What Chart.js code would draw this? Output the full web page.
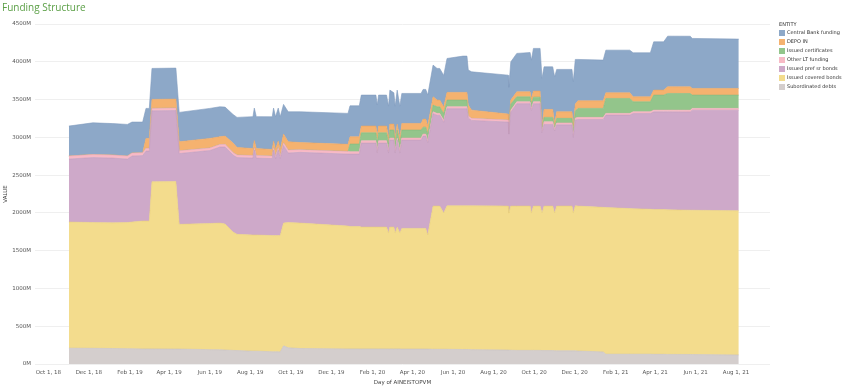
<!DOCTYPE html>
<html>
<head>
<meta charset="utf-8">
<script src="https://cdn.jsdelivr.net/npm/chart.js@4.4.1/dist/chart.umd.min.js"></script>
<style>
  html, body { margin: 0; padding: 0; background: #fff; }
  #wrap { position: relative; width: 850px; height: 389px; overflow: hidden; }
  #title { position: absolute; left: 2px; top: 0; line-height: 14px; font: 10px "Open Sans", sans-serif; color: #5a9f45; }
  #legend { position: absolute; left: 779px; top: 20px; font-family: "DejaVu Sans", sans-serif; font-size: 5px; color: #333; white-space: nowrap; }
  #legend .head { height: 8px; line-height: 8px; }
  #legend .row { height: 9px; line-height: 9px; display: flex; align-items: center; }
  #legend .box { width: 6px; height: 6px; margin-right: 2px; flex: none; }
  canvas { position: absolute; left: 0; top: 0; }
</style>
</head>
<body>
<div id="wrap">
  <canvas id="chart" width="850" height="389"></canvas>
  <div id="title">Funding Structure</div>
  <div id="legend"></div>
</div>
<script>
// dates of the readings (daily data sampled at its steps)
const dates = [
  '2018-11-01', '2018-12-07', '2019-01-06', '2019-01-28', '2019-02-04', '2019-02-20', '2019-02-25', '2019-03-02',
  '2019-03-06', '2019-04-11', '2019-04-16', '2019-06-01', '2019-06-16', '2019-06-24', '2019-07-06', '2019-07-12',
  '2019-08-05', '2019-08-07', '2019-08-10', '2019-09-03', '2019-09-05', '2019-09-08', '2019-09-12', '2019-09-15',
  '2019-09-20', '2019-09-27', '2019-10-15', '2019-12-26', '2019-12-29', '2020-01-12', '2020-01-15', '2020-02-06',
  '2020-02-08', '2020-02-10', '2020-02-22', '2020-02-25', '2020-02-27', '2020-03-04', '2020-03-06', '2020-03-09',
  '2020-03-13', '2020-03-16', '2020-04-14', '2020-04-17', '2020-04-21', '2020-04-24', '2020-05-02', '2020-05-08',
  '2020-05-12', '2020-05-18', '2020-05-23', '2020-06-16', '2020-06-22', '2020-06-24', '2020-06-29', '2020-08-23',
  '2020-08-24', '2020-08-27', '2020-09-05', '2020-09-25', '2020-09-27', '2020-09-30', '2020-10-10', '2020-10-13',
  '2020-10-16', '2020-10-29', '2020-11-01', '2020-11-04', '2020-11-27', '2020-11-29', '2020-12-02', '2020-12-06',
  '2021-01-13', '2021-01-17', '2021-02-22', '2021-02-27', '2021-03-25', '2021-03-30', '2021-04-14', '2021-04-20',
  '2021-05-24', '2021-05-27', '2021-08-05'
];

// values in millions
const subordinated = [
  210, 208, 205, 203, 202, 200, 200, 200,
  200, 198, 198, 190, 188, 186, 180, 178,
  170, 170, 170, 162, 162, 162, 162, 160,
  240, 215, 205, 200, 200, 200, 200, 200,
  200, 200, 200, 200, 200, 200, 200, 200,
  200, 198, 198, 198, 198, 198, 195, 195,
  195, 195, 195, 192, 192, 192, 190, 185,
  185, 182, 180, 180, 180, 180, 180, 178,
  178, 178, 176, 175, 175, 175, 174, 172,
  160, 130, 130, 130, 130, 128, 128, 127,
  126, 125, 120
];
const coveredBonds = [
  1669, 1664, 1664, 1669, 1677, 1692, 1692, 1692,
  2212, 2216, 1650, 1669, 1677, 1666, 1566, 1538,
  1537, 1537, 1537, 1538, 1538, 1538, 1538, 1540,
  1625, 1657, 1660, 1626, 1619, 1619, 1612, 1612,
  1612, 1612, 1612, 1533, 1612, 1612, 1533, 1612,
  1533, 1597, 1597, 1597, 1597, 1509, 1895, 1895,
  1895, 1803, 1899, 1902, 1902, 1902, 1904, 1905,
  1813, 1908, 1910, 1910, 1818, 1910, 1910, 1820,
  1912, 1912, 1822, 1915, 1915, 1823, 1920, 1918,
  1913, 1942, 1927, 1925, 1918, 1917, 1917, 1913,
  1910, 1910, 1908
];
const prefSrBonds = [
  833, 860, 856, 840, 873, 866, 926, 926,
  939, 940, 937, 966, 1006, 1019, 1019, 1016,
  1018, 1124, 1018, 1019, 1131, 1019, 1131, 1019,
  1026, 920, 936, 952, 959, 959, 1112, 1112,
  980, 1112, 1112, 1059, 1152, 1152, 1059, 1152,
  1059, 1169, 1169, 1221, 1221, 1221, 1223, 1202,
  1202, 1202, 1285, 1285, 1285, 1161, 1130, 1112,
  1045, 1245, 1355, 1355, 1355, 1355, 1355, 1060,
  1081, 1081, 1086, 1075, 1075, 1000, 1134, 1147,
  1164, 1222, 1237, 1260, 1267, 1292, 1292, 1297,
  1300, 1325, 1332
];
const otherLT = [
  40, 40, 40, 40, 40, 37, 36, 36,
  32, 33, 37, 33, 33, 36, 33, 33,
  33, 33, 33, 33, 33, 33, 33, 33,
  37, 39, 35, 35, 31, 31, 30, 30,
  30, 30, 30, 30, 26, 26, 30, 26,
  30, 26, 26, 27, 27, 27, 25, 25,
  25, 25, 25, 25, 25, 26, 27, 26,
  26, 25, 25, 25, 25, 25, 25, 25,
  35, 35, 25, 25, 25, 25, 27, 27,
  27, 23, 23, 23, 23, 23, 23, 23,
  23, 23, 23
];
const certificates = [
  0, 0, 0, 0, 0, 0, 0, 0,
  0, 0, 0, 0, 0, 0, 0, 0,
  0, 0, 0, 0, 0, 0, 0, 0,
  0, 0, 0, 0, 102, 102, 106, 106,
  106, 106, 106, 90, 106, 106, 90, 106,
  90, 106, 106, 92, 92, 92, 89, 87,
  87, 87, 89, 89, 89, 0, 0, 0,
  0, 80, 66, 66, 66, 62, 62, 26,
  58, 58, 26, 61, 61, 55, 92, 119,
  119, 198, 198, 132, 132, 199, 199, 221,
  221, 176, 176
];
const depoIn = [
  0, 0, 0, 0, 0, 0, 132, 132,
  119, 119, 119, 128, 103, 109, 126, 102,
  93, 93, 93, 88, 86, 88, 86, 88,
  115, 110, 95, 94, 96, 96, 89, 89,
  89, 89, 89, 80, 79, 79, 80, 79,
  80, 88, 88, 106, 106, 106, 109, 89,
  89, 89, 102, 102, 102, 146, 109, 80,
  80, 53, 66, 66, 66, 80, 80, 30,
  106, 106, 49, 87, 87, 80, 93, 100,
  100, 74, 74, 66, 66, 66, 66, 88,
  88, 88, 88
];
const centralBank = [
  397, 420, 417, 419, 410, 407, 397, 397,
  410, 410, 389, 397, 397, 384, 379, 397,
  423, 430, 423, 432, 437, 432, 437, 432,
  393, 397, 407, 410, 410, 410, 410, 410,
  410, 410, 410, 421, 450, 414, 421, 450,
  421, 397, 397, 393, 393, 406, 420, 419,
  419, 419, 449, 480, 480, 463, 507, 515,
  515, 506, 509, 520, 512, 565, 565, 641,
  563, 563, 617, 561, 561, 580, 591, 548,
  539, 565, 565, 583, 583, 639, 639, 670,
  670, 662, 653
];

const tickDates = ['2018-10-01', '2018-12-01', '2019-02-01', '2019-04-01', '2019-06-01', '2019-08-01',
  '2019-10-01', '2019-12-01', '2020-02-01', '2020-04-01', '2020-06-01', '2020-08-01', '2020-10-01',
  '2020-12-01', '2021-02-01', '2021-04-01', '2021-06-01', '2021-08-01'];
const tickLabels = ['Oct 1, 18', 'Dec 1, 18', 'Feb 1, 19', 'Apr 1, 19', 'Jun 1, 19', 'Aug 1, 19',
  'Oct 1, 19', 'Dec 1, 19', 'Feb 1, 20', 'Apr 1, 20', 'Jun 1, 20', 'Aug 1, 20', 'Oct 1, 20',
  'Dec 1, 20', 'Feb 1, 21', 'Apr 1, 21', 'Jun 1, 21', 'Aug 1, 21'];

const legendNames = ['Central Bank funding', 'DEPO IN', 'Issued certificates', 'Other LT funding',
  'Issued pref sr bonds', 'Issued covered bonds', 'Subordinated debts'];
const legendColors = ['#8da8c8', '#f5b26f', '#93c58b', '#f8bac6', '#cea9c9', '#f3dc8d', '#d4cecd'];

// x axis works in days from 1 Oct 2018 (no date adapter)
const epoch = Date.UTC(2018, 9, 1);
function dayOf(s) {
  const [y, m, d] = s.split('-').map(Number);
  return (Date.UTC(y, m - 1, d) - epoch) / 86400000;
}
const xDays = dates.map(dayOf);
const tickDays = tickDates.map(dayOf);

// stack from the bottom up
const stack = [
  { name: 'Subordinated debts', values: subordinated, color: '#d4cecd', line: '#c6c0bf' },
  { name: 'Issued covered bonds', values: coveredBonds, color: '#f3dc8d', line: '#e8cf7c' },
  { name: 'Issued pref sr bonds', values: prefSrBonds, color: '#cea9c9', line: '#c19bbb' },
  { name: 'Other LT funding', values: otherLT, color: '#f8bac6', line: '#f0aab8' },
  { name: 'Issued certificates', values: certificates, color: '#93c58b', line: '#84b87c' },
  { name: 'DEPO IN', values: depoIn, color: '#f5b26f', line: '#eba460' },
  { name: 'Central Bank funding', values: centralBank, color: '#8da8c8', line: '#7f9bbd' }
];

const datasets = stack.map((s, i) => ({
  label: s.name,
  data: s.values.map((v, j) => ({ x: xDays[j], y: v })),
  backgroundColor: s.color,
  borderColor: s.line,
  borderWidth: 0.6,
  pointRadius: 0,
  tension: 0,
  fill: i === 0 ? 'origin' : '-1'
}));

// legend
const legendEl = document.getElementById('legend');
legendEl.innerHTML = '<div class="head">ENTITY</div>' + legendNames.map((n, i) =>
  `<div class="row"><span class="box" style="background:${legendColors[i]}"></span>${n}</div>`).join('');

const tickFont = { family: 'DejaVu Sans', size: 5.5 };

new Chart(document.getElementById('chart').getContext('2d'), {
  type: 'line',
  data: { datasets },
  options: {
    responsive: false,
    animation: false,
    devicePixelRatio: 1,
    layout: { padding: { top: 24, right: 80, left: 2, bottom: 0 } },
    plugins: {
      legend: { display: false },
      tooltip: { enabled: false }
    },
    scales: {
      x: {
        type: 'linear',
        min: -20,
        max: 1086,
        grid: { display: false, drawTicks: false },
        border: { display: false },
        afterBuildTicks: scale => { scale.ticks = tickDays.map(v => ({ value: v })); },
        afterFit: scale => { scale.height = 25; },
        ticks: {
          autoSkip: false,
          maxRotation: 0,
          padding: 5,
          color: '#555',
          font: tickFont,
          callback: v => tickLabels[tickDays.indexOf(v)]
        },
        title: { display: true, text: 'Day of AINEISTOPVM', color: '#444', font: tickFont, padding: { top: 0, bottom: 3 } }
      },
      y: {
        stacked: true,
        min: 0,
        max: 4500,
        grid: { color: '#efefef', drawTicks: false },
        border: { display: false },
        afterFit: scale => { scale.width = 33; },
        ticks: {
          stepSize: 500,
          padding: 4,
          color: '#555',
          font: tickFont,
          callback: v => v + 'M'
        },
        title: { display: true, text: 'VALUE', color: '#444', font: tickFont, padding: { top: 0, bottom: 3 } }
      }
    }
  }
});
</script>
</body>
</html>
